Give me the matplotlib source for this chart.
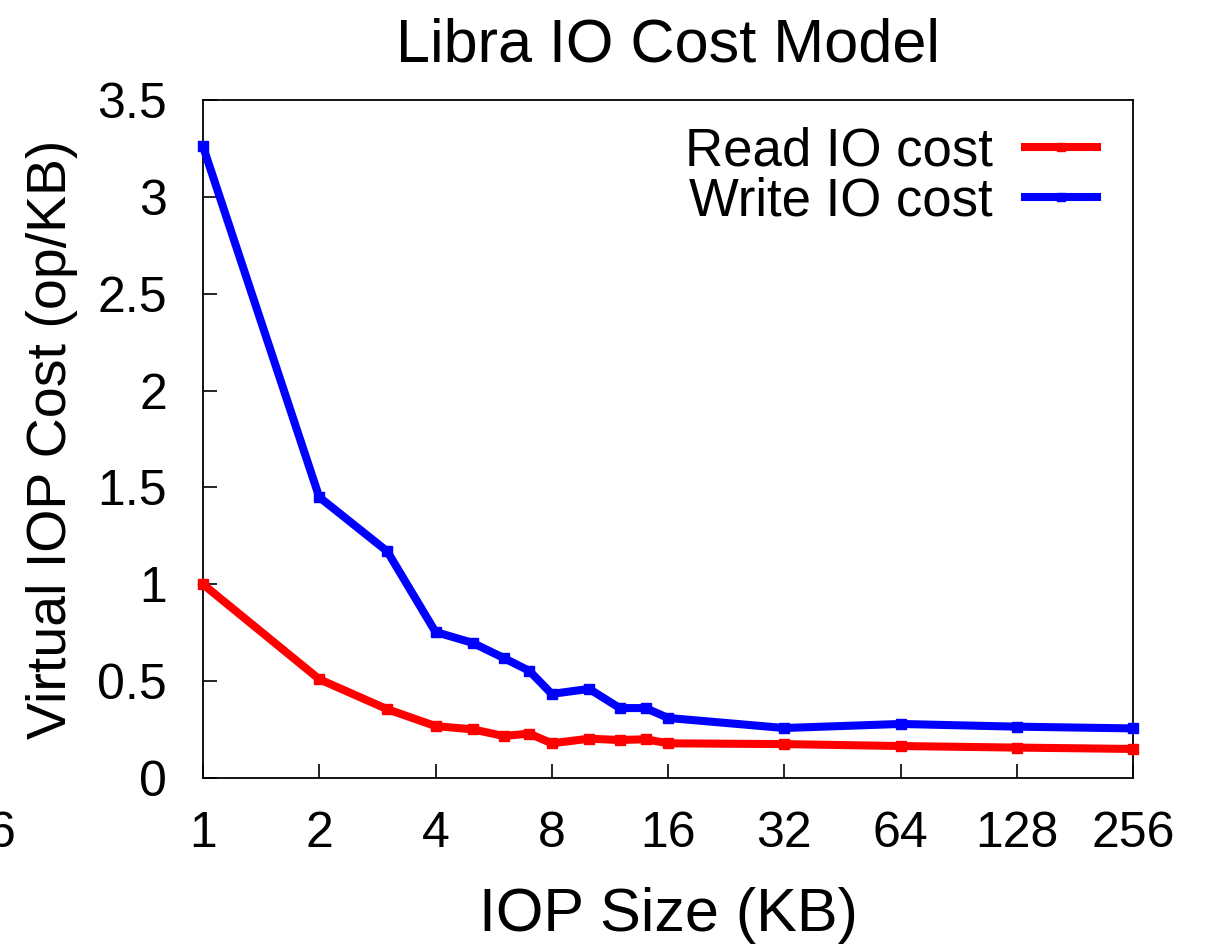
import matplotlib
matplotlib.use("Agg")
import matplotlib.pyplot as plt

plt.rcParams["font.family"] = ["Liberation Sans", "DejaVu Sans"]

# IOP sizes in KB
iop_size = [1, 2, 3, 4, 5, 6, 7, 8, 10, 12, 14, 16, 32, 64, 128, 256]
# Virtual IOP cost (op/KB)
read_cost = [1.00, 0.51, 0.355, 0.268, 0.251, 0.217, 0.229, 0.179, 0.203, 0.196,
             0.200, 0.179, 0.175, 0.165, 0.157, 0.150]
write_cost = [3.26, 1.45, 1.17, 0.754, 0.697, 0.620, 0.553, 0.434, 0.460, 0.361,
              0.361, 0.310, 0.258, 0.279, 0.265, 0.256]

x_ticks = [1, 2, 4, 8, 16, 32, 64, 128, 256]
x_tick_labels = ["1", "2", "4", "8", "16", "32", "64", "128", "256"]
y_ticks = [0, 0.5, 1, 1.5, 2, 2.5, 3, 3.5]
y_tick_labels = ["0", "0.5", "1", "1.5", "2", "2.5", "3", "3.5"]

fig = plt.figure(figsize=(12.1, 9.44), dpi=100)
ax = fig.add_axes([203 / 1210, 1 - 778 / 944, (1133 - 203) / 1210, (778 - 100) / 944])

ax.plot(iop_size, read_cost, color="#ff0000", lw=5.8, marker="s", ms=7,
        label="Read IO cost", clip_on=False, zorder=3)
ax.plot(iop_size, write_cost, color="#0000ff", lw=5.8, marker="s", ms=7,
        label="Write IO cost", clip_on=False, zorder=3)

ax.set_xscale("log", base=2)
ax.set_xlim(1, 256)
ax.set_ylim(0, 3.5)
ax.set_xticks(x_ticks)
ax.set_xticklabels(x_tick_labels)
ax.minorticks_off()
ax.set_yticks(y_ticks)
ax.set_yticklabels(y_tick_labels)

ax.tick_params(axis="both", direction="in", length=10, width=1.2, labelsize=36)
ax.tick_params(axis="x", pad=24)
ax.tick_params(axis="y", pad=26)
for s in ax.spines.values():
    s.set_linewidth(1.3)

ax.set_title("Libra IO Cost Model", fontsize=44, pad=28)
ax.set_xlabel("IOP Size (KB)", fontsize=44, labelpad=21)
ax.set_ylabel("Virtual IOP Cost (op/KB)", fontsize=40, labelpad=14)

ax.legend(loc="upper right", bbox_to_anchor=(0.9835, 0.9926), frameon=False,
          markerfirst=False, fontsize=38, handlelength=1.35, handletextpad=0.62,
          labelspacing=0.0, borderaxespad=0.0, markerscale=0.75)

# partially visible tick label at the left edge of the canvas
fig.text(15 / 1210, 1 - 834 / 944, "6", fontsize=36, ha="right", va="center")

fig.savefig("out.png", dpi=100)
